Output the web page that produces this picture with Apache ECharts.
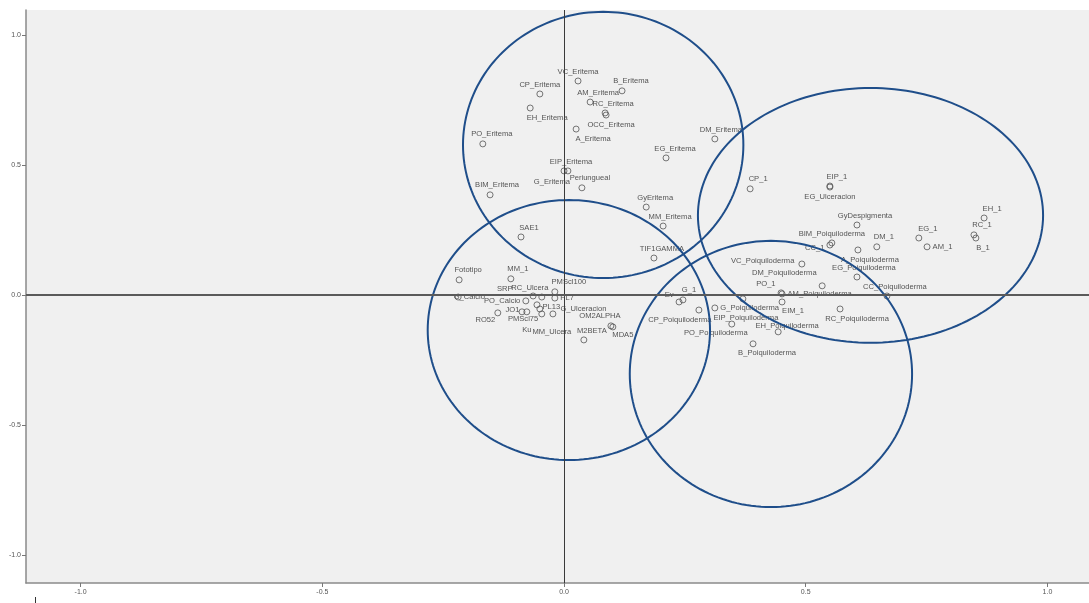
<!DOCTYPE html>
<html>
<head>
<meta charset="utf-8">
<script src="https://cdn.jsdelivr.net/npm/echarts@6/dist/echarts.min.js"></script>
<style>
html,body{margin:0;padding:0;background:#ffffff;}
#chart{width:1089px;height:603px;}
</style>
</head>
<body>
<div id="chart"></div>
<script>
// ---- data ----
const pointNames = [
  "VC_Eritema","CP_Eritema","B_Eritema","AM_Eritema","RC_Eritema","OCC_Eritema","EH_Eritema","A_Eritema",
  "PO_Eritema","DM_Eritema","EG_Eritema","EIP_Eritema","G_Eritema","Periungueal","BIM_Eritema","GyEritema",
  "MM_Eritema","SAE1","TIF1GAMMA","Fototipo","MM_1","SRP","RC_Ulcera","PMScl100","G_Calcio","PO_Calcio",
  "PL7","PL13","G_Ulceracion","JO1","PMScl75","RO52","Ku","MM_Ulcera","OM2ALPHA","M2BETA","MDA5",
  "Ev","G_1","CP_Poiquiloderma","G_Poiquiloderma","EIP_Poiquiloderma","PO_Poiquiloderma","PO_1",
  "AM_Poiquiloderma","EIM_1","EH_Poiquiloderma","B_Poiquiloderma","RC_Poiquiloderma","VC_Poiquiloderma",
  "DM_Poiquiloderma","CC_Poiquiloderma","EG_Poiquiloderma","A_Poiquiloderma","CC_1","BIM_Poiquiloderma",
  "DM_1","EG_1","AM_1","EH_1","RC_1","B_1","GyDespigmenta","CP_1","EIP_1","EG_Ulceracion"
];
const dim1 = [
  0.029,-0.050,0.120,0.054,0.085,0.087,-0.070,0.025,
  -0.168,0.312,0.211,0.000,0.008,0.037,-0.153,0.170,
  0.205,-0.089,0.186,-0.217,-0.110,-0.064,-0.046,-0.019,-0.219,-0.079,
  -0.019,-0.056,-0.023,-0.087,-0.046,-0.137,-0.077,-0.050,0.097,0.041,0.101,
  0.238,0.246,0.279,0.312,0.370,0.347,0.449,
  0.451,0.451,0.443,0.391,0.571,0.492,
  0.534,0.668,0.606,0.608,0.550,0.554,
  0.647,0.734,0.751,0.869,0.848,0.852,0.606,0.385,0.550,0.550
];
const dim2 = [
  0.823,0.773,0.785,0.742,0.700,0.692,0.719,0.638,
  0.581,0.600,0.527,0.477,0.477,0.412,0.385,0.338,
  0.265,0.223,0.142,0.058,0.062,-0.004,-0.008,0.012,-0.008,-0.023,
  -0.012,-0.038,-0.073,-0.065,-0.073,-0.069,-0.065,-0.054,-0.119,-0.173,-0.123,
  -0.027,-0.019,-0.058,-0.050,-0.015,-0.112,0.008,
  0.004,-0.027,-0.142,-0.188,-0.054,0.119,
  0.035,-0.004,0.069,0.173,0.192,0.200,
  0.185,0.219,0.185,0.296,0.231,0.219,0.269,0.408,0.419,0.415
];
// group ellipses: centre x, centre y, radius x, radius y (data units)
const ellipseCx = [0.081, 0.010, 0.634, 0.428];
const ellipseCy = [0.577, -0.135, 0.306, -0.304];
const ellipseRx = [0.290, 0.292, 0.357, 0.292];
const ellipseRy = [0.512, 0.500, 0.490, 0.512];
const tickValues = [-1.0, -0.5, 0.0, 0.5, 1.0];

// ---- label placement (layout only): side, [dx, dy] in px ----
const labelPlace = {
  "VC_Eritema":["top",[0,0]],"CP_Eritema":["top",[0,0]],"B_Eritema":["top",[9,0]],"AM_Eritema":["top",[8,0]],
  "RC_Eritema":["top",[8,0]],"OCC_Eritema":["bottom",[5,0]],"EH_Eritema":["bottom",[17,0]],"A_Eritema":["bottom",[17,0]],
  "PO_Eritema":["top",[9,0]],"DM_Eritema":["top",[6,0]],"EG_Eritema":["top",[9,0]],"EIP_Eritema":["top",[7,0]],
  "G_Eritema":["bottom",[-16,1]],"Periungueal":["top",[8,0]],"BIM_Eritema":["top",[7,0]],"GyEritema":["top",[9,0]],
  "MM_Eritema":["top",[7,0]],"SAE1":["top",[8,0]],"TIF1GAMMA":["top",[8,0]],"Fototipo":["top",[9,0]],
  "MM_1":["top",[7,0]],"SRP":["left",[-15,-7]],"RC_Ulcera":["top",[-12,0]],"PMScl100":["top",[14,0]],
  "G_Calcio":["right",[-10,0]],"PO_Calcio":["left",[0,0]],"PL7":["right",[0,0]],"PL13":["right",[0,2]],
  "G_Ulceracion":["right",[2,-5]],"JO1":["left",[3,-2]],"PMScl75":["left",[2,5]],"RO52":["left",[3,7]],
  "Ku":["bottom",[0,9]],"MM_Ulcera":["bottom",[12,13]],"OM2ALPHA":["top",[-11,0]],"M2BETA":["top",[8,0]],
  "MDA5":["bottom",[10,-2]],"Ev":["left",[0,-7]],"G_1":["top",[6,0]],"CP_Poiquiloderma":["bottom",[-19,0]],
  "G_Poiquiloderma":["right",[0,0]],"EIP_Poiquiloderma":["bottom",[3,10]],"PO_Poiquiloderma":["bottom",[-16,-1]],
  "PO_1":["left",[0,-9]],"AM_Poiquiloderma":["right",[0,0]],"EIM_1":["bottom",[11,-1]],
  "EH_Poiquiloderma":["top",[9,4]],"B_Poiquiloderma":["bottom",[14,0]],"RC_Poiquiloderma":["bottom",[17,0]],
  "VC_Poiquiloderma":["left",[-2,-3]],"DM_Poiquiloderma":["left",[0,-13]],"CC_Poiquiloderma":["top",[8,0]],
  "EG_Poiquiloderma":["top",[7,0]],"A_Poiquiloderma":["bottom",[12,0]],"CC_1":["left",[0,3]],
  "BIM_Poiquiloderma":["top",[0,0]],"DM_1":["top",[7,0]],"EG_1":["top",[9,0]],"AM_1":["right",[0,0]],
  "EH_1":["top",[8,0]],"RC_1":["top",[8,0]],"B_1":["bottom",[7,0]],"GyDespigmenta":["top",[8,0]],
  "CP_1":["top",[8,0]],"EIP_1":["top",[7,0]],"EG_Ulceracion":["bottom",[0,0]]
};

const pointData = pointNames.map((n, i) => {
  const lp = labelPlace[n] || ["top",[0,0]];
  return { name: n, value: [dim1[i], dim2[i]], label: { position: lp[0] } };
});
const ellipseData = ellipseCx.map((c, i) => [c, ellipseCy[i], ellipseRx[i], ellipseRy[i]]);

const chart = echarts.init(document.getElementById('chart'), null, { renderer: 'canvas' });
const axisLabelStyle = { color: '#555', fontSize: 7, fontFamily: 'Liberation Sans, Arial, sans-serif' };
chart.setOption({
  animation: false,
  backgroundColor: '#ffffff',
  grid: { left: 26, right: 0, top: 10, bottom: 20, show: true, backgroundColor: '#f0f0f0', borderWidth: 0 },
  graphic: [
    { type: 'line', shape: { x1: 35.5, y1: 597, x2: 35.5, y2: 603 }, style: { stroke: '#333', lineWidth: 1 }, silent: true }
  ],
  xAxis: {
    type: 'value', min: -1.113, max: 1.086,
    splitLine: { show: false },
    axisLine: { show: true, onZero: false, lineStyle: { color: '#8a8a8a', width: 1.5 } },
    axisTick: { show: true, length: 4, customValues: tickValues, lineStyle: { color: '#777' } },
    axisLabel: Object.assign({ customValues: tickValues, margin: 6,
      formatter: v => v.toFixed(1) }, axisLabelStyle)
  },
  yAxis: {
    type: 'value', min: -1.108, max: 1.096,
    splitLine: { show: false },
    axisLine: { show: true, onZero: false, lineStyle: { color: '#8a8a8a', width: 1.5 } },
    axisTick: { show: true, length: 4, customValues: tickValues, lineStyle: { color: '#777' } },
    axisLabel: Object.assign({ customValues: tickValues, margin: 5,
      formatter: v => v.toFixed(1) }, axisLabelStyle)
  },
  series: [
    {
      type: 'scatter',
      data: pointData,
      symbol: 'circle',
      symbolSize: 6,
      itemStyle: { color: 'rgba(0,0,0,0)', borderColor: '#555', borderWidth: 1 },
      label: {
        show: true, formatter: '{b}', distance: 2,
        color: '#2a2a2a', fontSize: 7.6, fontFamily: 'Liberation Sans, Arial, sans-serif'
      },
      labelLayout: function (params) {
        const lp = labelPlace[pointNames[params.dataIndex]] || ["top",[0,0]];
        return { dx: lp[1][0], dy: lp[1][1], hideOverlap: false };
      },
      emphasis: { disabled: true },
      markLine: {
        silent: true, symbol: 'none', label: { show: false },
        data: [
          { xAxis: 0, lineStyle: { color: '#3a3a3a', width: 1, type: 'solid' } },
          { yAxis: 0, lineStyle: { color: '#5a5a5a', width: 2, type: 'solid' } }
        ]
      },
      z: 3
    },
    {
      type: 'custom',
      data: ellipseData,
      silent: true,
      z: 4,
      renderItem: function (params, api) {
        const cx = api.value(0), cy = api.value(1), rx = api.value(2), ry = api.value(3);
        const pts = [];
        for (let k = 0; k < 180; k++) {
          const t = k / 180 * Math.PI * 2;
          pts.push(api.coord([cx + rx * Math.cos(t), cy + ry * Math.sin(t)]));
        }
        return { type: 'polygon', shape: { points: pts },
          style: { fill: 'none', stroke: '#1f4e8a', lineWidth: 2 } };
      }
    }
  ]
});
</script>
</body>
</html>
